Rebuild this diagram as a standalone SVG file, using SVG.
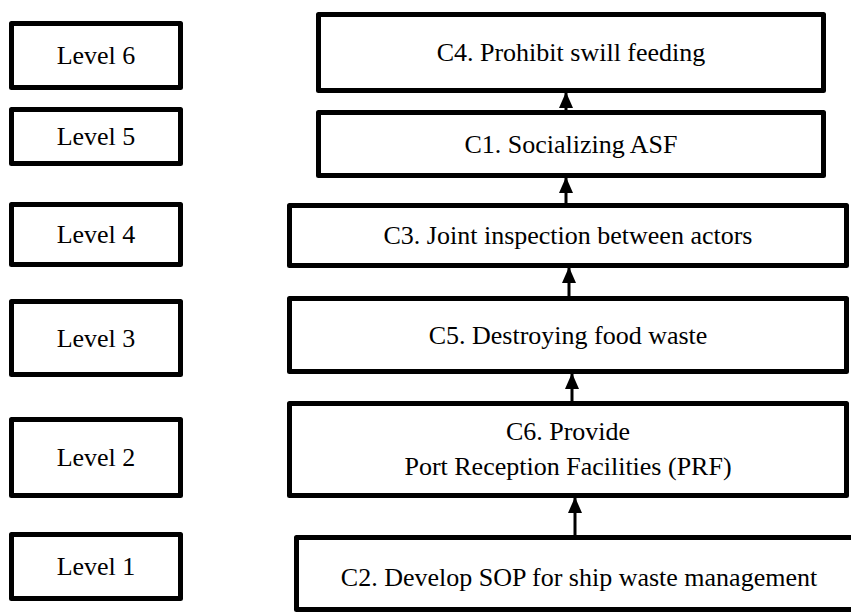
<svg xmlns="http://www.w3.org/2000/svg" width="851" height="612" viewBox="0 0 851 612">
<style>
.box{fill:#fff;stroke:#000;stroke-width:5;stroke-linejoin:round}
.t{font-family:"Liberation Serif","Times New Roman",serif;font-size:26px;fill:#000;text-anchor:middle;dominant-baseline:central}
.c{stroke:#000;stroke-width:3;fill:none}
</style>
<defs>
<marker id="ah" viewBox="0 0 16 14" refX="15" refY="7" markerWidth="16" markerHeight="14" orient="auto" markerUnits="userSpaceOnUse">
<path d="M0,0 L16,7 L0,14 z" fill="#000"/>
</marker>
</defs>
<rect width="851" height="612" fill="#fff"/>
<g id="level6"><rect class="box" x="11.5" y="23.5" width="169" height="64"/><text class="t" x="96" y="55.5">Level 6</text></g>
<g id="level5"><rect class="box" x="11.5" y="109.5" width="169" height="54"/><text class="t" x="96" y="136.5">Level 5</text></g>
<g id="level4"><rect class="box" x="11.5" y="204.5" width="169" height="60"/><text class="t" x="96" y="234.5">Level 4</text></g>
<g id="level3"><rect class="box" x="11.5" y="301.5" width="169" height="73"/><text class="t" x="96" y="338">Level 3</text></g>
<g id="level2"><rect class="box" x="11.5" y="419.5" width="169" height="76"/><text class="t" x="96" y="457.5">Level 2</text></g>
<g id="level1"><rect class="box" x="11.5" y="534.5" width="169" height="64"/><text class="t" x="96" y="566.5">Level 1</text></g>

<g id="C4"><rect class="box" x="318.5" y="14.5" width="505" height="76"/><text class="t" x="571" y="52.5">C4. Prohibit swill feeding</text></g>
<g id="C1"><rect class="box" x="318.5" y="112.5" width="505" height="63"/><text class="t" x="571" y="144">C1. Socializing ASF</text></g>
<g id="C3"><rect class="box" x="289.5" y="205.5" width="557" height="60"/><text class="t" x="568" y="235.5">C3. Joint inspection between actors</text></g>
<g id="C5"><rect class="box" x="289.5" y="298.5" width="557" height="73"/><text class="t" x="568" y="335">C5. Destroying food waste</text></g>
<g id="C6"><rect class="box" x="289.5" y="403.5" width="557" height="92"/><text class="t" x="568" y="431">C6. Provide</text><text class="t" x="568" y="466">Port Reception Facilities (PRF)</text></g>
<g id="C2"><rect class="box" x="296.5" y="537.5" width="560" height="72"/><text class="t" x="579" y="577">C2. Develop SOP for ship waste management</text></g>

<g id="connectors">
<line class="c" x1="566" y1="110" x2="566" y2="93" marker-end="url(#ah)"/>
<line class="c" x1="566" y1="203" x2="566" y2="178" marker-end="url(#ah)"/>
<line class="c" x1="569" y1="296" x2="569" y2="268" marker-end="url(#ah)"/>
<line class="c" x1="572" y1="401" x2="572" y2="374" marker-end="url(#ah)"/>
<line class="c" x1="575" y1="535" x2="575" y2="498" marker-end="url(#ah)"/>
</g>
</svg>
